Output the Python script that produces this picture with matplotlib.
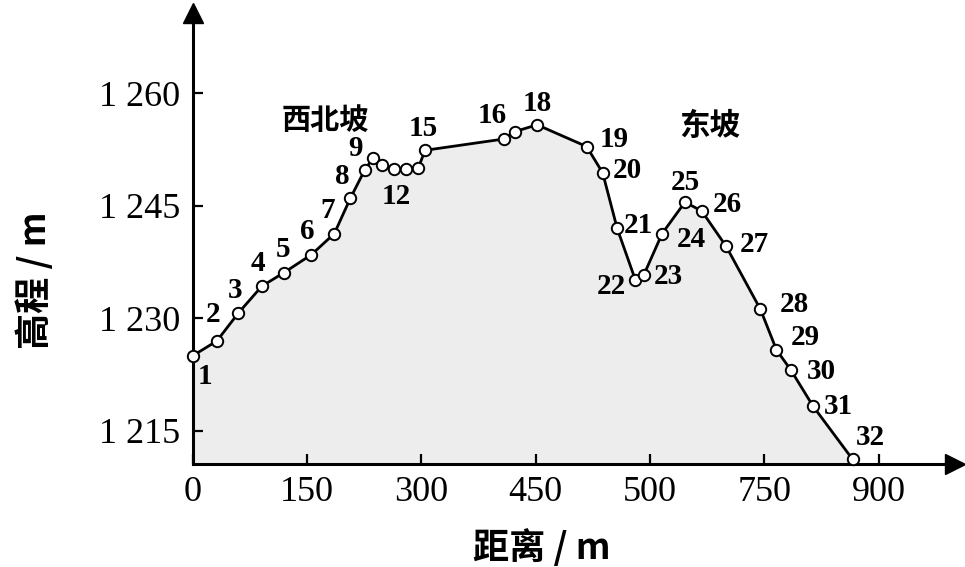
import matplotlib
matplotlib.use("Agg")
import matplotlib.pyplot as plt

# elevation profile, 32 survey points
point_ids = list(range(1, 33))
distance = [0, 32, 60, 91, 120, 156, 186, 207, 226, 237, 248, 264, 280, 296, 305,
            408, 423, 452, 517, 538, 557, 581, 592, 616, 646, 668, 700, 745, 766,
            785, 814, 866]
elevation = [1225.0, 1227.0, 1230.7, 1234.3, 1236.1, 1238.5, 1241.3, 1246.0,
             1249.8, 1251.4, 1250.5, 1249.9, 1249.9, 1250.0, 1252.4, 1253.9,
             1254.9, 1255.8, 1252.9, 1249.4, 1242.0, 1235.1, 1235.8, 1241.3,
             1245.5, 1244.3, 1239.6, 1231.2, 1225.8, 1223.1, 1218.3, 1211.2]
labelled = [1, 2, 3, 4, 5, 6, 7, 8, 9, 12, 15, 16, 18, 19, 20, 21, 22, 23, 24,
            25, 26, 27, 28, 29, 30, 31, 32]

x_ticks = [0, 150, 300, 450, 600, 750, 900]
x_ticklabels = ["0", "150", "300", "450", "500", "750", "900"]
y_ticks = [1215, 1230, 1245, 1260]
y_ticklabels = ["1 215", "1 230", "1 245", "1 260"]

# label offsets in pixels (dx, dy) for each labelled point
offsets = {1: (12, -21), 2: (-4, 26), 3: (-3, 23), 4: (-4, 23), 5: (-1, 23),
           6: (-4, 23), 7: (-7, 23), 8: (-8, 22), 9: (-9, 21), 12: (2, -27),
           15: (-2, 22), 16: (-11, 24), 18: (0, 21), 19: (28, 7), 20: (25, 2),
           21: (21, 3), 22: (-24, -6), 23: (24, -2), 24: (29, -6), 25: (0, 20),
           26: (26, 7), 27: (28, 2), 28: (34, 5), 29: (29, 12), 30: (30, -1),
           31: (25, 0), 32: (18, 22)}

serif = "Liberation Serif"
cjk = ["Noto Sans CJK SC", "DejaVu Sans"]
ymin, ymax = 1210.6, 1270.7
xmax = 1000

fig = plt.figure(figsize=(9.65, 5.67), dpi=100)
ax = fig.add_axes([0.1995, 0.1817, 0.790, 0.7954])

ax.fill_between(distance, elevation, ymin, color="#ededed", zorder=1)
ax.plot(distance, elevation, "-o", color="black", lw=2, ms=8.2,
        mfc="white", mec="black", mew=1.4, zorder=3, clip_on=False)

for pid in labelled:
    i = pid - 1
    ax.annotate(str(pid), (distance[i], elevation[i]), xytext=offsets[pid],
                textcoords="offset pixels", ha="center", va="center",
                fontsize=21, fontfamily=serif, fontweight="bold", zorder=4)

ax.text(174, 1256.4, "西北坡", fontsize=21, family=cjk, fontweight="bold",
        ha="center", va="center")
ax.text(679, 1255.6, "东坡", fontsize=22, family=cjk, fontweight="bold",
        ha="center", va="center")

ax.set_xlim(0, xmax)
ax.set_ylim(ymin, ymax)
ax.set_xticks(x_ticks)
ax.set_xticklabels(x_ticklabels)
ax.set_yticks(y_ticks)
ax.set_yticklabels(y_ticklabels)
ax.tick_params(direction="in", length=7, width=1.6, labelsize=26, pad=9)
for lab in ax.get_xticklabels() + ax.get_yticklabels():
    lab.set_fontfamily(serif)

for side in ["top", "right"]:
    ax.spines[side].set_visible(False)
for side in ["left", "bottom"]:
    ax.spines[side].set_linewidth(2.2)

# axis arrows
ax.plot(1, 0, ">", color="black", ms=14, transform=ax.transAxes, clip_on=False)
ax.plot(0, 1, "^", color="black", ms=14, transform=ax.transAxes, clip_on=False)

fig.text(0.561, 0.033, "距离 / m", fontsize=26, family=cjk, fontweight="bold",
         ha="center", va="center")
fig.text(0.036, 0.505, "高程 / m", fontsize=26, family=cjk, fontweight="bold",
         ha="center", va="center", rotation=90)

fig.savefig("out.png", dpi=100)
plt.close(fig)
